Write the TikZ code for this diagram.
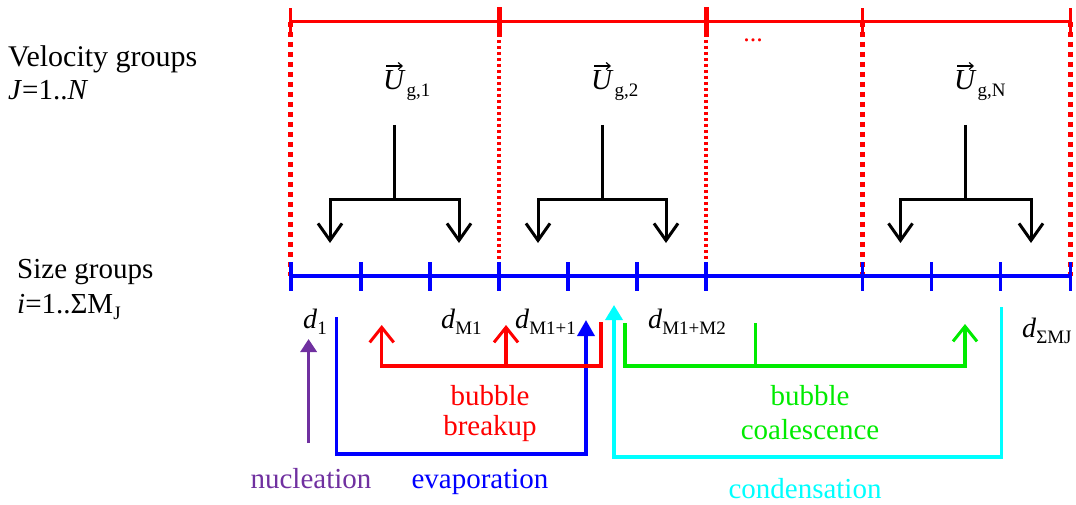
\documentclass[tikz,border=0pt]{standalone}
\usepackage{fontspec}
\setmainfont{Liberation Serif}
\usetikzlibrary{arrows.meta}
\definecolor{vred}{RGB}{255,0,0}
\definecolor{vblue}{RGB}{0,0,255}
\definecolor{vgreen}{RGB}{0,235,0}
\definecolor{vcyan}{RGB}{0,255,255}
\definecolor{vpurple}{RGB}{112,48,160}
\newcommand{\lsub}[1]{\raisebox{-0.22em}{\fontsize{19}{19}\selectfont #1}}
\tikzset{
  txt/.style={inner sep=0pt, font=\fontsize{29}{33}\selectfont},
  utxt/.style={inner sep=0pt, font=\fontsize{29}{33}\selectfont, anchor=base west},
  dtxt/.style={inner sep=0pt, font=\fontsize{28}{33}\selectfont, anchor=base west},
  vecarrow/.style={black, line width=1.2pt, -{Straight Barb[length=4pt,width=7pt,line width=1.2pt]}},
  topline/.style={vred, line width=3pt},
  thicktick/.style={vred, line width=5pt},
  thintick/.style={vred, line width=3pt},
  dotbig/.style={vred, line width=5pt, dash pattern=on 5pt off 5pt},
  dotsmall/.style={vred, line width=3.5pt, dash pattern=on 3pt off 3pt},
  sizeline/.style={vblue, line width=3.5pt},
  tree/.style={black, line width=3pt, line join=miter},
  barb/.style={{Straight Barb[length=17pt,width=24pt,line width=3pt]}-{Straight Barb[length=17pt,width=24pt,line width=3pt]}},
  oarrow/.style={-{Straight Barb[length=15pt,width=24pt,line width=3pt]}},
  farrow/.style={-{Triangle[length=16pt,width=17pt]}},
  flow/.style={line width=3.5pt, line join=miter}
}
\begin{document}
\begin{tikzpicture}[x=1pt,y=-1pt]
\useasboundingbox (0,0) rectangle (1076,505);
% group boundaries
\foreach \n/\x in {a/290.5,b/499,c/706,d/862.5,e/1070.5}{
  \coordinate (t\n) at (\x,22);
  \coordinate (s\n) at (\x,276);
}
% dotted separators
\draw[dotbig] (ta) -- (sa);
\draw[dotsmall] (tb) -- (sb);
\draw[dotsmall] (tc) -- (sc);
\draw[dotbig] (td) -- (sd);
\draw[dotbig] (te) -- (se);
% top red line and ticks
\draw[topline] (ta) -- (te);
\draw[thicktick] ([yshift=-15pt]tb) -- ([yshift=15pt]tb);
\draw[thicktick] ([yshift=-15pt]tc) -- ([yshift=15pt]tc);
\draw[thintick] ([yshift=-10pt]ta) -- ([yshift=14pt]ta);
\draw[thintick] ([yshift=-14pt]td) -- ([yshift=14pt]td);
\draw[thintick] ([yshift=-14pt]te) -- ([yshift=14pt]te);
\node[inner sep=0pt, text=vred, font=\fontsize{26}{26}\selectfont, anchor=base] (dots) at (753,42) {...};
% blue size line and ticks
\draw[sizeline] (sa) -- (se);
\foreach \x in {291,361,430,499,568,637,706,862.5,931.5,1000.5,1070.5}{
  \draw[sizeline] (\x,262) -- (\x,291);
}
% left labels
\node[txt, anchor=base west, font=\fontsize{30}{33}\selectfont] (vg) at (8,67) {Velocity groups};
\node[txt, anchor=base west] (vj) at (8,100) {\textit{J}=1..\textit{N}};
\node[txt, anchor=base west] (sg) at (17,278) {Size groups};
\node[txt, anchor=base west] (si) at (17,313) {\textit{i}=1..ΣM\lsub{J}};
% velocity labels
\node[utxt] (u1) at (383,90) {\textit{U}\kern1pt\lsub{g,1}};
\node[utxt] (u2) at (591,90) {\textit{U}\kern1pt\lsub{g,2}};
\node[utxt] (uN) at (954,90) {\textit{U}\kern1pt\lsub{g,N}};
\foreach \u in {u1,u2,uN}{
  \draw[vecarrow] (\u.base west) ++(3,-24) -- ++(17,0);
}
% trees
\foreach \n/\l/\c/\r in {1/330/394/459, 2/538/602/666, 3/900.5/965.5/1031}{
  \coordinate (st\n) at (\c,125);
  \coordinate (jn\n) at (\c,200);
  \coordinate (lt\n) at (\l,243);
  \coordinate (rt\n) at (\r,243);
  \draw[tree] (st\n) -- (jn\n);
  \draw[tree, barb] (lt\n) |- (jn\n) -| (rt\n);
}
% size labels
\node[dtxt] (d1) at (303,328) {\textit{d}\lsub{1}};
\node[dtxt] (dm1) at (441,328) {\textit{d}\lsub{M1}};
\node[dtxt] (dm11) at (515,328) {\textit{d}\lsub{M1+1}};
\node[dtxt] (dm12) at (648,328) {\textit{d}\lsub{M1+M2}};
\node[dtxt] (dsum) at (1022,337) {\textit{d}\lsub{ΣMJ}};
% nucleation
\coordinate (nucS) at (308.6,443);
\coordinate (nucE) at (308.6,339);
\draw[vpurple, flow, -{Triangle[length=13pt,width=16pt]}] (nucS) -- (nucE);
\node[txt, text=vpurple, anchor=base] (nuc) at (311,488) {nucleation};
% evaporation
\coordinate (evS) at (336.5,317);
\coordinate (evE) at (586,320);
\draw[vblue, flow, farrow] (evS) |- (461,454) -| (evE);
\node[txt, text=vblue, anchor=base] (evap) at (480,488) {evaporation};
% breakup
\coordinate (brS) at (601,322);
\coordinate (brL) at (381.7,325);
\coordinate (brM) at (506,325);
\draw[vred, flow, oarrow] (brS) |- (490,366) -| (brL);
\draw[vred, flow, oarrow] (506,366) -- (brM);
\node[txt, text=vred, anchor=base] (bb1) at (490,405) {bubble};
\node[txt, text=vred, anchor=base] (bb2) at (490,435) {breakup};
% condensation
\coordinate (coS) at (1001.5,307);
\coordinate (coE) at (614,305);
\draw[vcyan, flow, -{Triangle[length=15pt,width=17pt]}] (coS) |- (808,457) -| (coE);
\node[txt, text=vcyan, anchor=base] (cond) at (805,498) {condensation};
% coalescence
\coordinate (clS) at (625,323);
\coordinate (clM) at (755.6,323);
\coordinate (clE) at (965,324);
\draw[vgreen, flow, oarrow] (clS) |- (795,366) -| (clE);
\draw[vgreen, flow] (755.6,366) -- (clM);
\node[txt, text=vgreen, anchor=base] (cb1) at (810,405) {bubble};
\node[txt, text=vgreen, anchor=base] (cb2) at (810,439) {coalescence};
\end{tikzpicture}
\end{document}
